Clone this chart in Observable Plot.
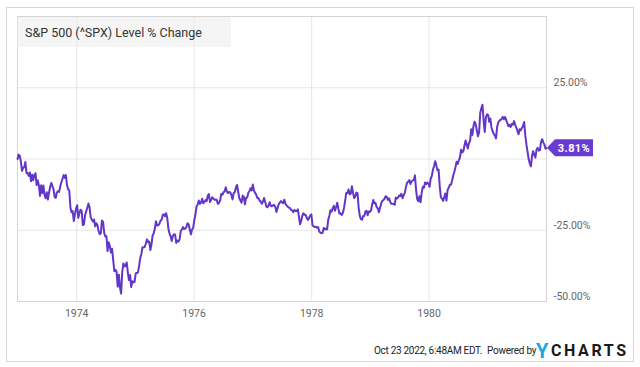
<!DOCTYPE html>
<html><head><meta charset="utf-8">
<script src="https://cdn.jsdelivr.net/npm/d3@7"></script>
<script src="https://cdn.jsdelivr.net/npm/@observablehq/plot@0.6"></script>
<style>
body{margin:0;background:#fff;font-family:Roboto,sans-serif;}
#wrap{position:relative;width:640px;height:367px;overflow:hidden;}
#wrap svg{position:absolute;left:0;top:0;}
#border{position:absolute;left:6px;top:7px;width:628px;height:355px;border:1px solid #d6d6d6;box-sizing:border-box;}
#title{position:absolute;left:17px;top:17px;width:214px;height:30px;background:rgba(238,238,238,0.6);font-size:12.5px;color:#333;line-height:31px;padding-left:8px;box-sizing:border-box;white-space:nowrap;}
.ft{position:absolute;white-space:nowrap;color:#222;}
</style></head>
<body>
<div id="wrap">
<div id="border"></div>
<div id="chart"></div>
<div id="title">S&amp;P 500 (^SPX) Level % Change</div>
<div class="ft" style="left:374px;top:345px;font-size:10px;letter-spacing:-0.3px;">Oct 23 2022, 6:48AM EDT.</div>
<div class="ft" style="left:487px;top:345px;font-size:10px;letter-spacing:-0.25px;">Powered by</div>
<div class="ft" style="left:536px;top:339px;font-size:20px;font-weight:700;color:#1da6df;">Y</div>
<div class="ft" style="left:551px;top:341px;font-size:16px;font-weight:700;letter-spacing:2.6px;color:#1a1a1a;">CHARTS</div>
</div>
<script>
// S&P 500 weekly closes (index level)
const baseLevel = 118.05; // 1972-12-29
const spx1973 = [119.87,119.43,116.90,113.16, 114.35,114.68,116.78,112.19, 112.28,111.05,112.44,108.84,111.52, 109.28,111.44,112.17,107.23, 109.20,107.10,102.73,107.14, 103.93,107.03,103.30,101.80,104.26, 101.28,104.09,106.55,108.14, 106.80,105.60,102.30,101.94,104.25, 104.76,104.44,106.76,108.43, 109.85,111.44,110.22,111.38, 107.07,105.52,104.96,98.00,95.96, 96.51,92.38,95.19,97.54];
const spx1974 = [98.90,93.66,95.56,97.07, 96.57,90.66,91.00,94.71, 96.40,97.78,99.65,98.01,93.98, 93.01,92.12,92.96,90.18, 91.46,90.66,88.21,86.89,87.28, 92.55,92.00,87.46,86.00, 86.02,79.90,83.54,82.02, 79.31,80.86,76.30,71.55,72.15, 71.42,65.20,70.14,64.94, 62.34,71.14,74.80,73.50, 73.88,75.21,71.00,67.90,69.97, 65.01,67.45,66.91,67.14];
const spx1975 = [70.71,70.79,71.08,73.76,76.98, 78.63,81.50,81.44,81.59, 83.03,84.76,83.61,83.85, 80.35,82.64,86.30,87.30, 89.22,92.27,90.53,90.58,91.15, 92.48,92.89,94.81,95.19, 94.36,95.61,93.63,89.29, 87.15,86.02,84.07,86.20,86.88, 86.72,83.30,84.26,83.82, 84.87,88.21,88.86,89.83,89.04, 89.20,89.87,91.46,90.94, 88.83,86.82,88.80,89.46];
const spx1976 = [92.58,94.95,98.32,99.21,100.86, 99.46,100.02,101.61,99.71, 100.19,101.03,100.58,102.85, 103.52,100.20,101.12,102.20,101.64, 101.16,101.26,101.07,99.44, 99.93,100.92,103.61,103.25, 104.28,104.65,106.30,104.56,103.90, 104.43,104.25,103.11,101.32, 103.92,104.29,106.27,107.27, 104.51,101.90,100.85,99.96,102.90, 102.41,99.24,101.92,102.10, 104.08,104.70,105.92,105.07,107.46];
const spx1977 = [105.01,104.01,103.32,101.93, 101.88,100.82,100.49,99.48, 100.39,101.87,100.20,98.42, 98.02,98.88,100.15,98.62,98.44, 98.93,99.03,98.17,96.12, 97.69,99.29,100.00,100.62, 100.10,99.79,101.21,99.52,98.85, 98.33,97.95,97.72,96.92, 96.77,96.03,96.96,96.47,96.53, 97.20,94.04,91.00,92.51, 94.58,95.58,94.92,94.83, 93.56,92.82,93.70,94.69,95.10];
const spx1978 = [90.64,90.17,89.89,89.98, 89.62,89.86,88.08,87.51, 87.32,87.45,89.51,88.87,89.21, 88.86,92.92,94.54,96.83, 96.26,97.67,98.62,96.58, 98.14,99.93,97.42,95.40,95.53, 94.89,95.78,97.75,100.68, 104.01,103.92,105.45,103.39, 103.68,106.79,104.12,101.84,102.54, 104.12,103.88,97.95,94.59, 93.15,92.89,94.42,94.43, 96.28,96.63,94.77,96.31,96.11];
const spx1979 = [96.73,99.10,101.05,99.72, 99.86,98.09,97.65,96.02, 97.87,99.54,100.69,101.06,101.59, 102.65,102.31,101.12,101.80, 100.37,99.52,99.55,99.46, 99.08,102.09,101.63,102.09,102.91, 102.73,103.64,101.82,103.10, 104.04,106.40,108.25,108.63,109.32, 107.66,108.76,109.19,109.32, 111.27,105.30,101.48,100.58, 102.61,100.10,104.09,106.58,106.16, 108.34,107.67,108.30,107.84];
const spx1980 = [106.52,109.92,111.07,113.61, 115.12,117.12,115.41,113.33,113.66, 106.90,102.31,101.67,100.68, 102.15,103.79,100.81,105.16, 106.13,107.35,107.35,109.01,111.24, 112.78,114.66,116.94,116.00, 117.46,118.69,121.93,120.78, 121.21,123.61,125.72,123.86,122.38, 124.81,125.54,130.40,128.00, 131.73,133.49,132.41,129.85,127.47, 129.18,137.15,139.11,140.52, 134.03,129.23,135.29,136.57];
const spx1981 = [136.34,133.48,134.77,131.00,129.55, 128.46,127.81,126.58,131.27, 133.19,133.92,134.22,134.68, 135.49,134.51,135.45,134.34, 132.97,131.66,132.17,131.33,132.59, 132.22,133.75,132.27,131.04, 129.77,128.32,130.35,129.90,130.92, 131.75,133.40,127.92,124.08, 121.24,118.00,116.26,115.01, 119.36,121.31,119.71,118.60,121.89, 122.67,121.49,121.71,125.09, 126.26,124.93,124.00,122.31,122.55];

const years = [1973,1974,1975,1976,1977,1978,1979,1980,1981];
const yearly = [spx1973,spx1974,spx1975,spx1976,spx1977,spx1978,spx1979,spx1980,spx1981];
const xTickYears = [1974,1976,1978,1980];
const yGridValues = [25,0,-25];
const yLabelValues = [25,-25,-50];
const lineColor = "#6236c9";

const startDate = new Date(Date.UTC(1972,11,29));
const endDate = new Date(Date.UTC(1981,11,31));

const data = [{date: startDate, level: baseLevel}];
years.forEach((y, k) => {
  const vals = yearly[k];
  const fridays = d3.utcFriday.range(new Date(Date.UTC(y,0,1)), new Date(Date.UTC(y+1,0,1)));
  vals.forEach((v, i) => {
    const d = i < fridays.length ? fridays[i] : new Date(Date.UTC(y,11,31));
    data.push({date: d, level: v});
  });
});
data.forEach(d => d.pct = (d.level / baseLevel - 1) * 100);
const last = data[data.length - 1];

const xTicks = xTickYears.map(y => new Date(Date.UTC(y,0,1)));

const plot = Plot.plot({
  width: 640, height: 367,
  marginLeft: 17, marginRight: 94, marginTop: 16, marginBottom: 66,
  style: {fontFamily: "Roboto, sans-serif", fontSize: "10.5px", color: "#666", background: "transparent"},
  x: {type: "utc", domain: [startDate, endDate]},
  y: {domain: [-50, 50]},
  marks: [
    Plot.gridX(xTicks, {stroke: "#e6e6e6", strokeOpacity: 1}),
    Plot.gridY(yGridValues, {stroke: "#e6e6e6", strokeOpacity: 1}),
    Plot.frame({stroke: "#d4d4d4"}),
    Plot.axisX(xTicks, {tickSize: 0, tickPadding: 8, tickFormat: d3.utcFormat("%Y"), label: null, fill: "#666"}),
    Plot.axisY(yLabelValues, {anchor: "right", tickSize: 0, tickPadding: 7, dy: -5, tickFormat: d => d.toFixed(2) + "%", label: null, fill: "#666"}),
    Plot.line(data, {x: "date", y: "pct", stroke: lineColor, strokeWidth: 2})
  ]
});
document.getElementById("chart").appendChild(plot);

// end-value badge positioned with the plot's scales
const bx = plot.scale("x").apply(last.date);
const by = plot.scale("y").apply(last.pct);
const g = d3.select(plot).append("g");
g.append("path")
  .attr("d", `M${bx+1},${by} L${bx+9},${by-8.5} L${bx+47},${by-8.5} L${bx+47},${by+8.5} L${bx+9},${by+8.5} Z`)
  .attr("fill", "#6a3bd2");
g.append("text")
  .attr("x", bx + 28).attr("y", by).attr("dy", "0.36em")
  .attr("text-anchor", "middle").attr("fill", "#fff")
  .attr("font-weight", 700).attr("font-size", "11px").attr("letter-spacing", "0.4px")
  .text(last.pct.toFixed(2) + "%");
</script>
</body></html>
